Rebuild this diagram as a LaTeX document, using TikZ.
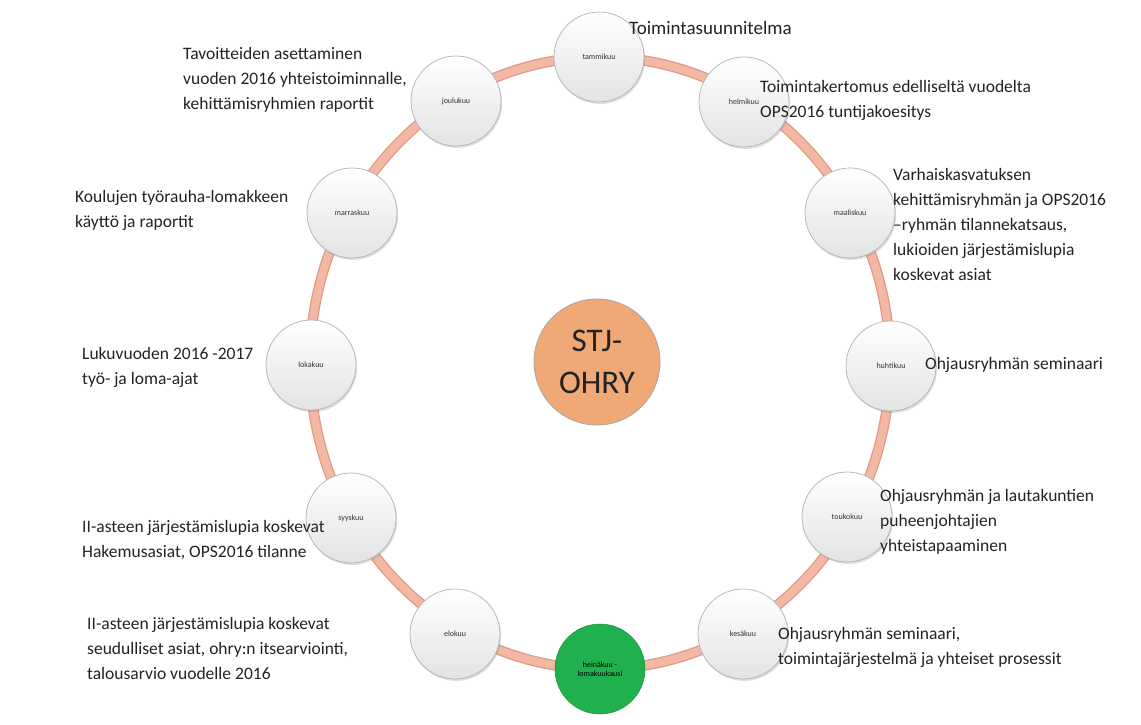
\documentclass[tikz,border=0pt]{standalone}
\usepackage{fontspec}
\setmainfont{Carlito}
\usetikzlibrary{shadows}
\definecolor{ringfill}{RGB}{242,184,163}
\definecolor{ringedge}{RGB}{224,152,130}
\definecolor{hubfill}{RGB}{240,168,118}
\definecolor{greenfill}{RGB}{32,176,78}
\definecolor{txt}{RGB}{35,35,35}
\tikzset{
  month/.style={circle, minimum size=90pt, inner sep=0pt, top color=white, bottom color=black!11,
    draw=black!30, line width=0.7pt, font=\fontsize{8}{9}\selectfont, text=black!80, align=center,
    drop shadow={shadow xshift=1.2pt, shadow yshift=-2pt, opacity=0.25}},
  greenmonth/.style={circle, minimum size=90pt, inner sep=0pt, fill=greenfill, draw=greenfill!80!black,
    line width=0.5pt, font=\fontsize{8}{9}\selectfont, text=black, align=center},
  hub/.style={circle, minimum size=126pt, inner sep=0pt, fill=hubfill, draw=black!35, line width=0.8pt,
    font=\fontsize{33}{42}\selectfont, text=txt, align=center},
  note/.style={anchor=west, inner sep=0pt, align=left, text=txt, font=\fontsize{17.5}{25}\selectfont}
}
\begin{document}
\begin{tikzpicture}[x=1pt,y=-1pt]
\useasboundingbox (0,0) rectangle (1141,724);
\fill[white] (0,0) rectangle (1141,724);
% ring
\coordinate (ctr) at (600,363);
\draw[ringedge, line width=10.5pt] (ctr) ellipse [x radius=290pt, y radius=306pt];
\draw[ringfill, line width=8pt] (ctr) ellipse [x radius=290pt, y radius=306pt];
% hub
\node[hub] (hub) at (597,362) {STJ-\\OHRY};
% months
\node[month] (m1) at (599,57) {tammikuu};
\node[month] (m2) at (744,102) {helmikuu};
\node[month] (m3) at (850,213) {maaliskuu};
\node[month] (m4) at (891,366) {huhtikuu};
\node[month] (m5) at (847,517) {toukokuu};
\node[month] (m6) at (743,634) {kesäkuu};
\node[greenmonth] (m7) at (600,669) {heinäkuu -\\lomakuukausi};
\node[month] (m8) at (455,634) {elokuu};
\node[month] (m9) at (351,518) {syyskuu};
\node[month] (m10) at (311,365) {lokakuu};
\node[month] (m11) at (352,213) {marraskuu};
\node[month] (m12) at (456,101) {joulukuu};
% notes
\node[note, font=\fontsize{19}{25}\selectfont] (n1) at (629,28) {Toimintasuunnitelma};
\node[note] (n2) at (760,100) {Toimintakertomus edelliseltä vuodelta\\OPS2016 tuntijakoesitys};
\node[note] (n3) at (893,224) {Varhaiskasvatuksen\\kehittämisryhmän ja OPS2016\\–ryhmän tilannekatsaus,\\lukioiden järjestämislupia\\koskevat asiat};
\node[note] (n4) at (925,365) {Ohjausryhmän seminaari};
\node[note] (n5) at (880,522) {Ohjausryhmän ja lautakuntien\\puheenjohtajien\\yhteistapaaminen};
\node[note] (n6) at (778,647) {Ohjausryhmän seminaari,\\toimintajärjestelmä ja yhteiset prosessit};
\node[note] (n8) at (87,648) {II-asteen järjestämislupia koskevat\\seudulliset asiat, ohry:n itsearviointi,\\talousarvio vuodelle 2016};
\node[note] (n9) at (82,540) {II-asteen järjestämislupia koskevat\\Hakemusasiat, OPS2016 tilanne};
\node[note] (n10) at (82,367) {Lukuvuoden 2016 -2017\\työ- ja loma-ajat};
\node[note] (n11) at (75,210) {Koulujen työrauha-lomakkeen\\käyttö ja raportit};
\node[note] (n12) at (183,80) {Tavoitteiden asettaminen\\vuoden 2016 yhteistoiminnalle,\\kehittämisryhmien raportit};
\end{tikzpicture}
\end{document}
